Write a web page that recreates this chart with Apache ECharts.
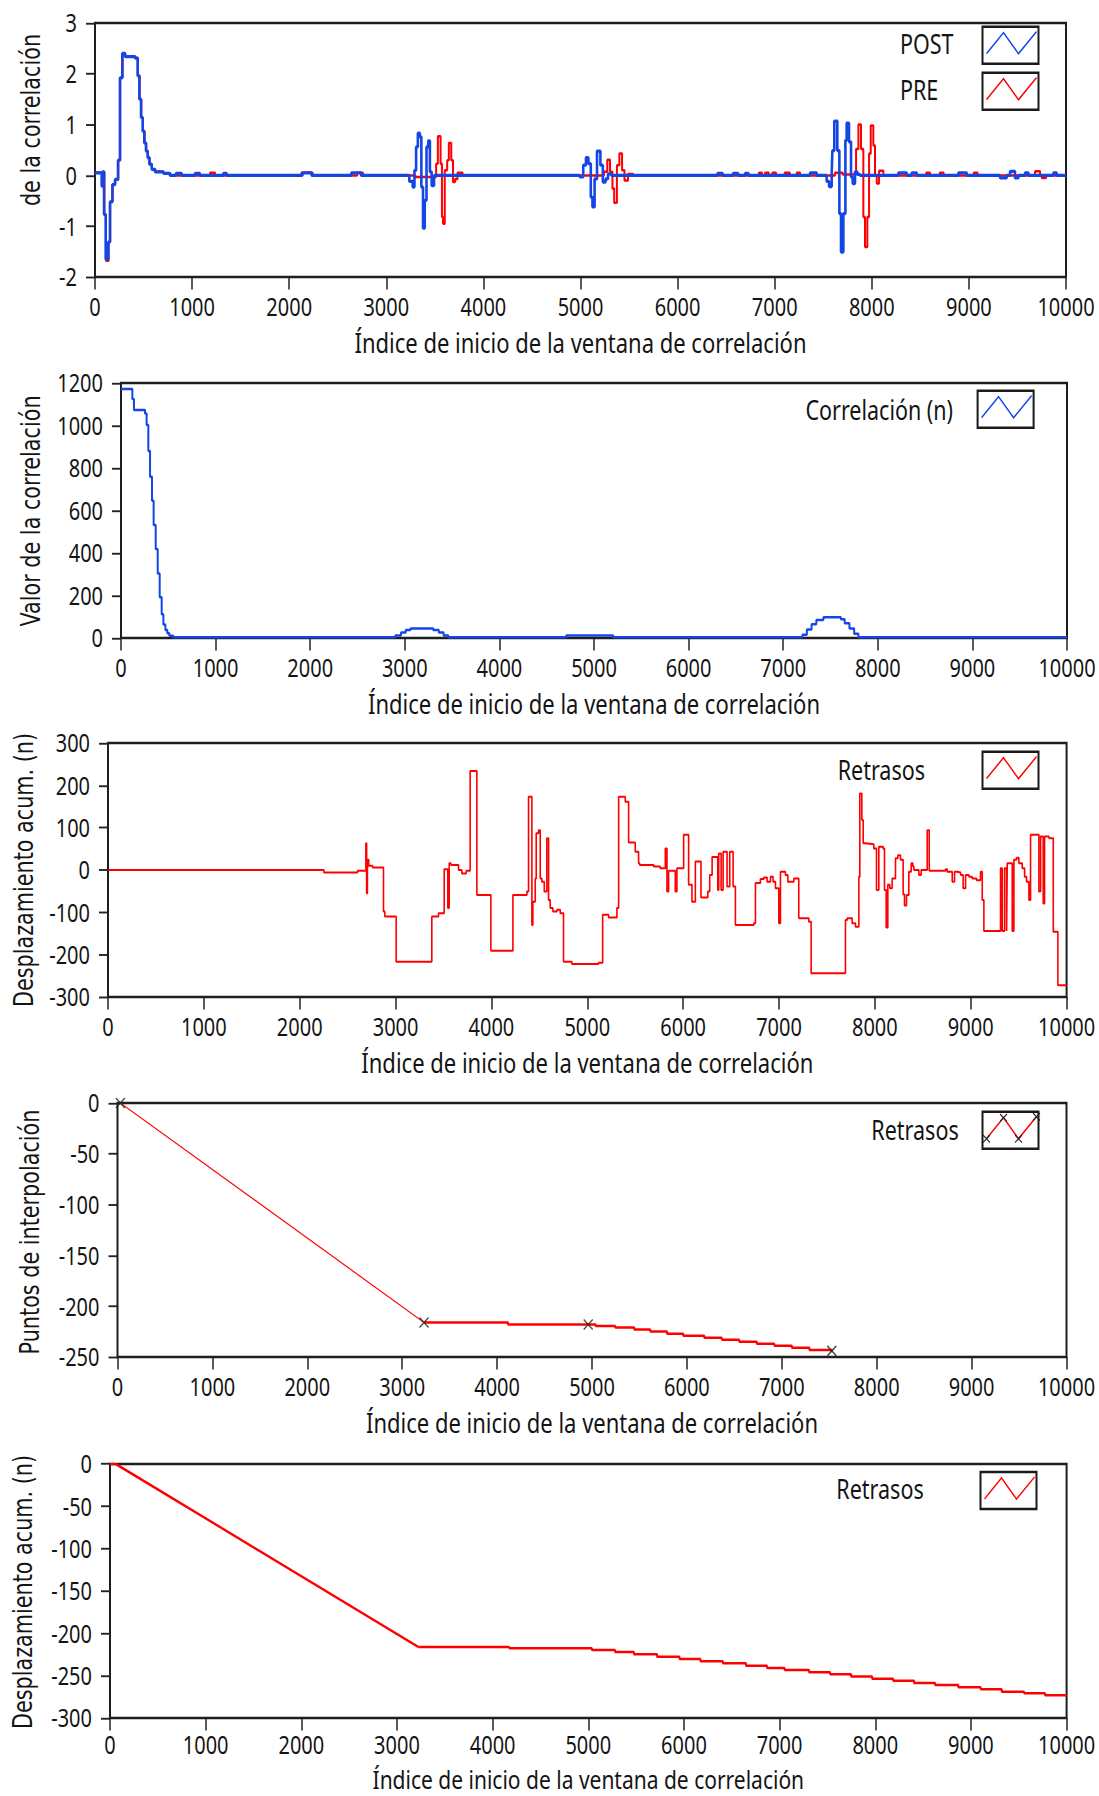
<!DOCTYPE html>
<html>
<head>
<meta charset="utf-8">
<script src="https://cdn.jsdelivr.net/npm/echarts@6/dist/echarts.min.js"></script>
<style>
html, body { margin:0; padding:0; background:#fff; overflow:hidden; }
#wrap { width:1099px; height:1796px; overflow:hidden; }
/* the reference screenshot is stretched vertically, so we draw at 1/1.25 height and stretch */
#main { width:1099px; height:1436.8px; transform:scale(1, 1.25); transform-origin:0 0; }
</style>
</head>
<body>
<div id="wrap"><div id="main"></div></div>
<script>
// ---- chart 1 : POST / PRE (step levels, x = start of level) ----
const postX = [0,69,79,93,110,137,154,179,206,237,257,281,309,412,439,457,474,491,508,525,542,560,584,618,704,772,834,893,1030,1081,1322,1356,2128,2231,2640,2740,3237,3272,3290,3307,3325,3346,3361,3378,3396,3414,3432,3449,3467,3492,4992,5028,5056,5081,5106,5123,5145,5170,5205,5230,5258,5283,5319,6411,6464,6571,6624,6695,6730,7364,7433,7535,7560,7587,7594,7614,7645,7666,7683,7707,7728,7741,7765,7786,7803,7827,7851,7878,8274,8360,8411,8463,8892,8978,9321,9389,9424,9475,9510,9578,9613,9870,9904,10000];
const postY = [0.05,-0.21,0.07,-0.77,-1.65,-1.31,-0.52,-0.18,-0.08,0.30,1.92,2.40,2.34,2.31,1.96,1.50,1.14,0.87,0.64,0.48,0.35,0.22,0.12,0.07,0.04,0,0.04,0,0.04,0,0.04,0,0.05,0,0.05,0,-0.12,-0.23,0.1,0.56,0.83,0.76,-0.23,-1.04,-0.49,0.56,0.68,0.07,-0.2,0,-0.03,0.2,0.35,0.23,-0.43,-0.62,-0.07,0.48,0.2,-0.13,-0.07,0.03,0,0.04,0,0.04,0,0.04,0,0.05,0,-0.12,-0.22,0.05,0.49,1.07,0.49,-0.75,-1.51,-0.75,0.69,1.03,0.66,-0.03,-0.16,0.07,0.02,0,0.05,0,0.05,0,0.05,0,-0.05,0,0.08,-0.05,0,0.05,0,0.05,0,0];
const preX = [0,72,82,97,113,140,157,182,209,240,260,284,312,415,442,460,477,494,511,528,545,563,587,621,707,775,1184,1236,2140,2242,2700,2760,3300,3513,3531,3559,3573,3584,3602,3627,3644,3669,3687,3708,3733,3786,5241,5276,5304,5329,5347,5375,5400,5428,5453,5489,5542,6837,6870,6900,6940,6975,7014,7103,7156,7227,7262,7620,7700,7838,7862,7889,7913,7930,7954,7972,7989,8016,8033,8051,8075,8119,8560,8600,8700,8740,9050,9090,9681,9733,9750,9795,10000];
const preY = [0.05,-0.21,0.07,-0.77,-1.68,-1.31,-0.52,-0.18,-0.08,0.30,1.92,2.40,2.34,2.31,1.96,1.50,1.14,0.87,0.64,0.48,0.35,0.22,0.12,0.07,0.04,0,0.05,0,0.05,0,0.05,0,-0.03,0.23,0.77,0.23,-0.82,-0.95,0.1,0.3,0.64,0.3,-0.13,-0.07,0.05,0,0.07,0.31,0.07,-0.26,-0.54,0.2,0.43,0.1,-0.1,0.03,0,0.05,0,0.05,0,0.05,0,0.05,0,0.05,0,0.05,0.02,0.52,1.0,0.52,-0.82,-1.41,-0.82,0.43,0.98,0.59,0,-0.16,0.09,0,0.05,0,0.05,0,0.05,0,0.08,0,-0.05,0,0];

// ---- chart 2 : Correlación (n) ----
const corrX = [0,120,137,254,271,289,307,328,345,367,388,409,430,448,469,490,511,553,2900,2960,3010,3060,3300,3360,3410,3460,4707,5203,7203,7250,7300,7350,7425,7610,7650,7700,7750,7795,10000];
const corrY = [1172,1125,1073,1057,1002,880,759,646,532,419,304,192,112,64,38,22,11,3,12,26,38,45,38,26,12,3,12,3,15,40,65,85,98,88,70,45,20,3,3];

// ---- chart 3 : Retrasos (desplazamiento acumulado) ----
const delX = [0,2252,2603,2690,2698,2706,2720,2760,2874,2888,3006,3378,3448,3507,3545,3559,3577,3657,3691,3737,3778,3848,3994,4224,4370,4387,4422,4432,4457,4467,4492,4509,4526,4551,4578,4596,4613,4641,4683,4718,4752,4839,5118,5160,5222,5309,5327,5396,5431,5500,5535,5546,5692,5761,5814,5831,5848,5918,5935,6005,6057,6092,6127,6186,6257,6277,6302,6361,6371,6396,6417,6458,6486,6521,6545,6737,6754,6806,6841,6876,6911,6938,6963,6998,7015,7067,7092,7154,7206,7311,7335,7693,7711,7763,7798,7833,7843,7864,7878,7902,7989,8017,8041,8086,8100,8118,8135,8156,8180,8215,8240,8267,8295,8309,8330,8354,8379,8396,8407,8459,8483,8546,8567,8737,8754,8807,8831,8859,8894,8921,8946,8981,9015,9061,9102,9120,9137,9311,9328,9353,9374,9381,9433,9450,9478,9502,9537,9562,9582,9607,9624,9711,9729,9756,9770,9816,9861,9909,10000];
const delY = [0,-6,-2,63,-55,24,10,6,-98,-110,-217,-110,-102,2,-90,16,12,0,-8,-2,234,-59,-191,-59,-51,173,-130,-75,-20,87,94,-20,-28,-51,75,-71,-90,-98,-94,-102,-217,-222,-219,-106,-112,-90,173,161,65,43,16,12,8,4,51,-51,-2,-51,4,83,-35,-75,20,-65,-51,-12,31,-47,39,-47,43,-39,43,-39,-130,-126,-31,-21,-18,-28,-16,-28,-43,-126,-4,-12,-28,-20,-114,-122,-244,-118,-114,-126,-134,-16,181,118,63,61,51,-47,55,51,-47,-136,-35,-43,-20,28,35,24,-57,-84,-59,-4,16,8,0,-12,0,94,-2,2,-4,-28,-4,-6,-12,-43,-12,-16,-20,-24,-4,-71,-144,4,-144,4,-144,16,-144,24,29,16,4,-16,-28,-71,83,-51,79,-79,79,75,-146,-272,-272];

// ---- chart 4 : Puntos de interpolación ----
const interpX = [30, 3230, 4960, 7527];
const interpY = [0, -216, -218, -244];
const step4X = [3230,4115,5039,5245,5445,5614,5791,5962,6183,6368,6552,6737,6922,7106,7291,7527];
const step4Y = [-216,-218,-219.5,-221,-223,-225,-227,-229,-231,-233,-235,-237,-239,-241,-243,-245];

// ---- chart 5 : Desplazamiento acumulado ----
const diag5X = [0, 60, 3222];
const diag5Y = [0, 0, -216];
const step5X = [3222,4174,5038,5280,5477,5719,5953,6173,6407,6649,6868,7052,7308,7528,7747,7967,8187,8406,8626,8868,9102,9322,9556,9775,9996,10000];
const step5Y = [-216,-217.7,-219.7,-222.1,-224.8,-227.6,-230.3,-233.1,-235.4,-238.2,-241,-243.3,-246,-248.4,-251.1,-253.5,-255.9,-258.6,-261,-263.8,-266.1,-268.9,-270.8,-273,-274,-274];

// axis ranges [min, max, interval]
const yRanges = [[-2,3,1],[0,1200,200],[-300,300,100],[-250,0,50],[-300,0,50]];
const yTitles = ['de la correlación','Valor de la correlación','Desplazamiento acum. (n)','Puntos de interpolación','Desplazamiento acum. (n)'];
const xTitle = 'Índice de inicio de la ventana de correlación';

const SY = 1.25;
const FONT = "'Noto Sans', 'DejaVu Sans', sans-serif";
const INK = '#141414';
const BLUE = '#1446e6';
const RED = '#ff0000';

function pairs(xs, ys) { return xs.map((x, i) => [x, ys[i]]); }

// grid boxes in picture pixels
const boxes = [
  [95, 23, 971, 254],
  [121, 383, 946, 255],
  [108, 743, 958.6, 254],
  [117.5, 1103, 949, 254],
  [110, 1464, 956.6, 254]
];
// last chart sits at the page bottom: labels/title a bit tighter so nothing is cut
const nameGaps = [41, 41, 41, 41, 38];
const nameSizes = [22, 22, 22, 22, 21];
const labelMargins = [14, 14, 14, 14, 11];

const grid = boxes.map(b => ({
  left: b[0], top: b[1] / SY, width: b[2], height: b[3] / SY,
  show: true, borderColor: '#1e1e1e', borderWidth: 2, backgroundColor: '#fff'
}));

const xAxis = boxes.map((b, i) => ({
  type: 'value', gridIndex: i, min: 0, max: 10000, interval: 1000,
  name: xTitle, nameLocation: 'middle', nameGap: nameGaps[i],
  nameTextStyle: { fontFamily: FONT, fontSize: nameSizes[i], color: INK },
  axisLine: { show: false, onZero: false },
  axisTick: { show: true, length: 10, lineStyle: { color: '#222', width: 1.5 } },
  axisLabel: { margin: labelMargins[i], fontFamily: FONT, fontSize: 20, color: INK, formatter: v => String(v) },
  splitLine: { show: false }
}));

const yAxis = yRanges.map((r, i) => ({
  type: 'value', gridIndex: i, min: r[0], max: r[1], interval: r[2],
  axisLine: { show: false, onZero: false },
  axisTick: { show: true, length: 9, lineStyle: { color: '#222', width: 1.5 } },
  axisLabel: { margin: 18, fontFamily: FONT, fontSize: 20, color: INK, formatter: v => String(v) },
  splitLine: { show: false }
}));

function lineSeries(name, idx, data, color, width, step) {
  return {
    name: name, type: 'line', xAxisIndex: idx, yAxisIndex: idx,
    data: data, step: step || false, symbol: 'none',
    lineStyle: { color: color, width: width }, itemStyle: { color: color },
    animation: false
  };
}

const series = [
  lineSeries('PRE', 0, pairs(preX, preY), RED, 2, 'end'),
  lineSeries('POST', 0, pairs(postX, postY), BLUE, 2.6, 'end'),
  lineSeries('Correlación (n)', 1, pairs(corrX, corrY), BLUE, 2, 'end'),
  lineSeries('Retrasos', 2, pairs(delX, delY), RED, 1.6, 'end'),
  lineSeries('Retrasos', 3, [[interpX[0], interpY[0]], [step4X[0], step4Y[0]]], RED, 1, false),
  lineSeries('Retrasos', 3, pairs(step4X, step4Y), RED, 2, 'end'),
  {
    name: 'Retrasos', type: 'scatter', xAxisIndex: 3, yAxisIndex: 3,
    data: pairs(interpX, interpY),
    symbol: 'path://M0,0L10,10M0,10L10,0', symbolSize: [9, 8],
    itemStyle: { color: 'transparent', borderColor: '#222', borderWidth: 1.3 },
    z: 5, animation: false
  },
  lineSeries('Retrasos', 4, pairs(diag5X, diag5Y), RED, 2, false),
  lineSeries('Retrasos', 4, pairs(step5X, step5Y), RED, 2, 'end')
];

// legend boxes drawn by hand (LabVIEW style), picture pixels
function legendBox(bx, by, color, withMarks) {
  const pts = [[4,27],[21,6],[36,27],[54,5]].map(p => [bx + p[0], (by + p[1]) / SY]);
  const els = [
    { type: 'rect', shape: { x: bx, y: by / SY, width: 56, height: 37 / SY },
      style: { fill: '#fff', stroke: '#1a1a1a', lineWidth: 2 }, z: 10 },
    { type: 'polyline', shape: { points: pts }, style: { stroke: color, lineWidth: 1.3, fill: null }, z: 11 }
  ];
  if (withMarks) {
    pts.forEach(p => {
      els.push({ type: 'line', shape: { x1: p[0] - 3.5, y1: p[1] - 3, x2: p[0] + 3.5, y2: p[1] + 3 }, style: { stroke: '#222', lineWidth: 1 }, z: 12 });
      els.push({ type: 'line', shape: { x1: p[0] - 3.5, y1: p[1] + 3, x2: p[0] + 3.5, y2: p[1] - 3 }, style: { stroke: '#222', lineWidth: 1 }, z: 12 });
    });
  }
  return els;
}
function legendText(text, x, y, align) {
  return { type: 'text', x: x, y: y / SY, z: 10,
    style: { text: text, fontFamily: FONT, fontSize: 21.5, fill: INK, align: align, verticalAlign: 'middle' } };
}
function yTitle(text, x, y) {
  return { type: 'text', x: x, y: y / SY, rotation: Math.PI / 2, scaleX: 0.83, scaleY: 1.36, z: 10,
    style: { text: text, fontFamily: 'DejaVu Sans', fontSize: 20, fill: INK, align: 'center', verticalAlign: 'middle' } };
}

const yTitlePos = [[31, 120], [31, 511], [24, 870], [30, 1232], [23, 1592]];

const graphics = [].concat(
  legendBox(982.5, 26.7, BLUE, false),
  legendBox(982.5, 72.7, RED, false),
  legendText('POST', 900, 43.3, 'left'),
  legendText('PRE', 900, 89.3, 'left'),
  legendBox(977.6, 390.7, BLUE, false),
  legendText('Correlación (n)', 953, 409.3, 'right'),
  legendBox(982.5, 751.7, RED, false),
  legendText('Retrasos', 925, 769.3, 'right'),
  legendBox(982.5, 1111.7, RED, true),
  legendText('Retrasos', 958.7, 1130, 'right'),
  legendBox(980.5, 1472, RED, false),
  legendText('Retrasos', 923.7, 1489, 'right'),
  yTitles.map((t, i) => yTitle(t, yTitlePos[i][0], yTitlePos[i][1]))
);

const chart = echarts.init(document.getElementById('main'), null, { renderer: 'svg' });
chart.setOption({
  animation: false,
  backgroundColor: '#fff',
  grid: grid,
  xAxis: xAxis,
  yAxis: yAxis,
  series: series,
  graphic: { elements: graphics }
});
</script>
</body>
</html>
